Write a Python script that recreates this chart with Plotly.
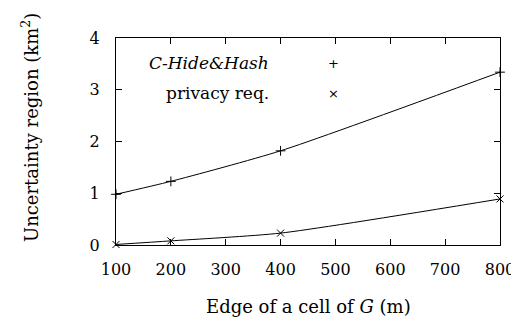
import plotly.graph_objects as go

edge_m = [100, 200, 400, 800]
c_hide_hash = [0.98, 1.23, 1.82, 3.34]
privacy_req = [0.01, 0.08, 0.23, 0.89]
x_ticks = [100, 200, 300, 400, 500, 600, 700, 800]
y_ticks = [0, 1, 2, 3, 4]

FONT = "DejaVu Serif, serif"
FS = 16
FT = 18

fig = go.Figure()
fig.add_trace(go.Scatter(
    x=edge_m, y=c_hide_hash, mode="lines+markers", name="C-Hide&Hash",
    line=dict(color="black", width=1, shape="spline", smoothing=0.6),
    marker=dict(symbol="cross-thin", size=7, line=dict(color="black", width=1)),
    cliponaxis=False, showlegend=False))
fig.add_trace(go.Scatter(
    x=edge_m, y=privacy_req, mode="lines+markers", name="privacy req.",
    line=dict(color="black", width=1, shape="spline", smoothing=0.6),
    marker=dict(symbol="x-thin", size=7, line=dict(color="black", width=1)),
    cliponaxis=False, showlegend=False))

axis_common = dict(showline=True, linecolor="black", linewidth=1.3, mirror="ticks",
                   ticks="inside", ticklen=6, tickcolor="black", tickwidth=1.3,
                   showgrid=False, zeroline=False,
                   tickfont=dict(family=FONT, size=FS, color="black"))

fig.update_xaxes(range=[100, 800], tickvals=x_ticks, ticklabelstandoff=10, **axis_common)
fig.update_yaxes(range=[0, 4], tickvals=y_ticks, ticklabelstandoff=12, **axis_common)

ann = []
ann.append(dict(x=-0.224, y=0.57, xref="paper", yref="paper", textangle=-90,
                xanchor="center", yanchor="middle",
                text="Uncertainty region (km<sup>2</sup>)", showarrow=False,
                font=dict(family=FONT, size=FT, color="black")))
ann.append(dict(x=0.5, y=-0.295, xref="paper", yref="paper",
                xanchor="center", yanchor="middle",
                text="Edge of a cell of <i>G</i> (m)", showarrow=False,
                font=dict(family=FONT, size=FT, color="black")))
legend_labels = ["<i>C-Hide&amp;Hash</i>", "privacy req."]
legend_syms = ["+", "×"]
legend_y = [0.879, 0.734]
for lab, sym, yy in zip(legend_labels, legend_syms, legend_y):
    ann.append(dict(x=0.404, y=yy, xref="paper", yref="paper",
                    xanchor="right", yanchor="middle",
                    text=lab, showarrow=False,
                    font=dict(family=FONT, size=17, color="black")))
    ann.append(dict(x=0.566, y=yy, xref="paper", yref="paper",
                    xanchor="center", yanchor="middle",
                    text=sym, showarrow=False,
                    font=dict(family="DejaVu Sans", size=13, color="#000000")))

fig.update_layout(width=519, height=320, margin=dict(l=108, r=22, t=30, b=83),
                  paper_bgcolor="white", plot_bgcolor="white",
                  annotations=ann, font=dict(family=FONT, color="black"))
fig.write_html("out.html")
